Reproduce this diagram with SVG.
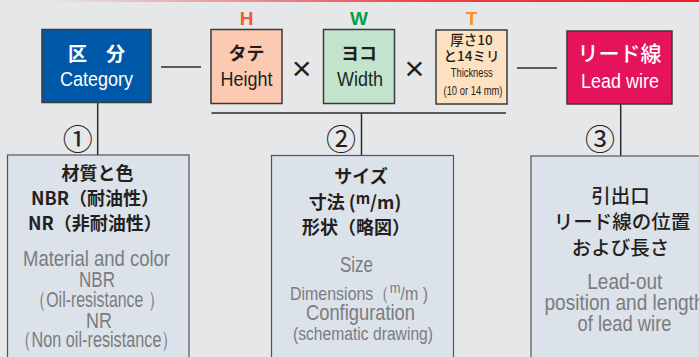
<svg xmlns="http://www.w3.org/2000/svg" width="699" height="357" viewBox="0 0 699 357">
<defs>
<linearGradient id="topline" x1="0" y1="0" x2="1" y2="0">
<stop offset="0.07" stop-color="#ed1c24" stop-opacity="0"/>
<stop offset="0.6" stop-color="#ed1c24" stop-opacity="0.8"/>
<stop offset="1" stop-color="#ed1c24"/>
</linearGradient>
</defs>
<style>
.top{stroke:#3a3a3a;stroke-width:1.5}
.box{fill:#dbe2e9;stroke:#555;stroke-width:1.2}
.conn line{stroke:#2b2b2b;stroke-width:1.5}
.jp{font-family:"Noto Sans CJK JP","Liberation Sans",sans-serif;text-anchor:middle}
.en{font-family:"Liberation Sans Narrow","Liberation Sans",sans-serif;text-anchor:middle}
.b{font-weight:700}
.dk{fill:#231f20}
.gr{fill:#7b7c7e}
.wh{fill:#fff}
.g{font-size:21.5px}
.num{font-family:"Noto Sans CJK JP","DejaVu Sans",sans-serif;font-size:30px;fill:#231f20;text-anchor:middle}
.x{font-family:"Liberation Sans",sans-serif;font-size:34px;fill:#231f20;text-anchor:middle}
</style>
<rect width="699" height="357" fill="#e6e7e8"/>
<rect x="0" y="0" width="699" height="2" fill="url(#topline)"/>

<g id="connectors" class="conn">
<line x1="161" y1="67" x2="201" y2="67"/>
<line x1="517" y1="68" x2="557" y2="68"/>
<line x1="211.5" y1="113" x2="506" y2="113"/>
<line x1="97.7" y1="103" x2="97.7" y2="155"/>
<line x1="361.5" y1="113" x2="361.5" y2="155.5"/>
<line x1="620.7" y1="104" x2="620.7" y2="156"/>
</g>

<g id="category">
<rect class="top" x="42" y="29.5" width="109" height="73" fill="#0058a9"/>
<text class="jp b wh" x="96.5" y="61" font-size="19">区　分</text>
<text class="en wh" x="96.5" y="86" font-size="20.5" textLength="73" lengthAdjust="spacingAndGlyphs">Category</text>
</g>

<g id="height">
<text class="en b" x="246.5" y="25" font-size="19" fill="#f15a36">H</text>
<rect class="top" x="211" y="29.5" width="71" height="74" fill="#fcc9b3"/>
<text class="jp b dk" x="246.5" y="60" font-size="18">タテ</text>
<text class="en dk" x="246.5" y="86" font-size="20.5" textLength="52" lengthAdjust="spacingAndGlyphs">Height</text>
</g>

<text class="x" x="301.7" y="80">×</text>

<g id="width">
<text class="en b" x="359" y="25" font-size="19" fill="#0a9c4b">W</text>
<rect class="top" x="323.5" y="29.5" width="71" height="74" fill="#c3e4cc"/>
<text class="jp b dk" x="359" y="60" font-size="18">ヨコ</text>
<text class="en dk" x="360" y="86" font-size="20.5" textLength="46" lengthAdjust="spacingAndGlyphs">Width</text>
</g>

<text class="x" x="414.5" y="80">×</text>

<g id="thickness">
<text class="en b" x="471.5" y="25" font-size="19" fill="#f7941d">T</text>
<rect class="top" x="436" y="30" width="71" height="74" fill="#fde1c1"/>
<text class="jp dk" x="471.5" y="45" font-size="13.5" font-weight="500">厚さ10</text>
<text class="jp dk" x="471.5" y="61" font-size="13.5" font-weight="500">と14ミリ</text>
<text class="en dk" x="471.8" y="77" font-size="12.5" textLength="42" lengthAdjust="spacingAndGlyphs">Thickness</text>
<text class="en dk" x="473" y="95" font-size="12" textLength="59" lengthAdjust="spacingAndGlyphs">(10 or 14 mm)</text>
</g>

<g id="leadwire">
<rect class="top" x="567" y="31" width="105" height="73" fill="#e5135c"/>
<text class="jp wh" x="619.5" y="61" font-size="21" font-weight="500">リード線</text>
<text class="en wh" x="620" y="87.5" font-size="20.5" textLength="78" lengthAdjust="spacingAndGlyphs">Lead wire</text>
</g>

<g id="n1"><text class="num" x="77.7" y="149.5">①</text></g>
<g id="n2"><text class="num" x="341" y="149.5">②</text></g>
<g id="n3"><text class="num" x="600" y="150">③</text></g>

<g id="material">
<rect class="box" x="7.5" y="155" width="181.5" height="215"/>
<text class="jp b dk" x="97.5" y="180" font-size="18">材質と色</text>
<text class="jp b dk" x="95" y="205" font-size="18">NBR（耐油性）</text>
<text class="jp b dk" x="95" y="230" font-size="18">NR（非耐油性）</text>
<text class="en gr g" x="96.5" y="266" textLength="147" lengthAdjust="spacingAndGlyphs">Material and color</text>
<text class="en gr g" x="97" y="286.5" textLength="36" lengthAdjust="spacingAndGlyphs">NBR</text>
<text class="en gr g" x="97" y="306.5" textLength="134" lengthAdjust="spacingAndGlyphs">（Oil-resistance ）</text>
<text class="en gr g" x="99" y="327.5" textLength="26" lengthAdjust="spacingAndGlyphs">NR</text>
<text class="en gr g" x="96.5" y="347" textLength="163" lengthAdjust="spacingAndGlyphs">（Non oil-resistance）</text>
</g>

<g id="size">
<rect class="box" x="271.5" y="155.5" width="182" height="215"/>
<text class="jp b dk" x="361" y="183" font-size="18">サイズ</text>
<text class="jp b dk" x="355" y="209" font-size="18">寸法 (<tspan font-size="15" dy="-5">m</tspan><tspan dy="5">/m)</tspan></text>
<text class="jp b dk" x="356" y="234" font-size="18">形状（略図）</text>
<text class="en gr g" x="356.5" y="271.5" textLength="33" lengthAdjust="spacingAndGlyphs">Size</text>
<text class="en gr" x="359" y="300" font-size="18.5" textLength="138" lengthAdjust="spacingAndGlyphs">Dimensions（<tspan font-size="15" dy="-7">m</tspan><tspan dy="7">/m )</tspan></text>
<text class="en gr g" x="360.5" y="320" textLength="109" lengthAdjust="spacingAndGlyphs">Configuration</text>
<text class="en gr" x="363" y="340" font-size="18" textLength="140" lengthAdjust="spacingAndGlyphs">(schematic drawing)</text>
</g>

<g id="leadout">
<rect class="box" x="531" y="156" width="200" height="215"/>
<text class="jp dk" x="620.5" y="202.5" font-size="19.5" font-weight="500">引出口</text>
<text class="jp dk" x="622" y="229" font-size="19.5" font-weight="500">リード線の位置</text>
<text class="jp dk" x="620.5" y="255" font-size="19.5" font-weight="500">および長さ</text>
<text class="en gr g" x="624.8" y="289" textLength="75" lengthAdjust="spacingAndGlyphs">Lead-out</text>
<text class="en gr g" x="624.5" y="310" textLength="160" lengthAdjust="spacingAndGlyphs">position and length</text>
<text class="en gr g" x="624.5" y="330.5" textLength="94" lengthAdjust="spacingAndGlyphs">of lead wire</text>
</g>
</svg>
